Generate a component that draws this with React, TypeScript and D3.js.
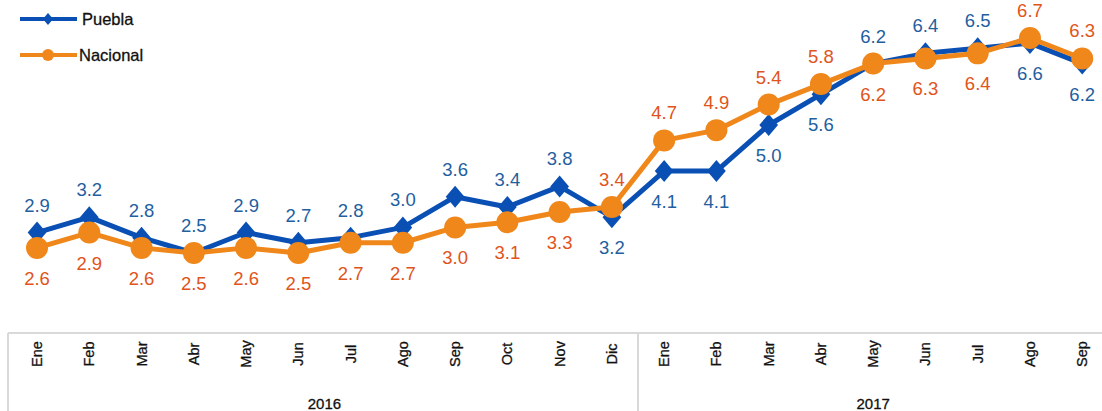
import React from 'react';
import * as d3 from 'd3';

const months = ['Ene', 'Feb', 'Mar', 'Abr', 'May', 'Jun', 'Jul', 'Ago', 'Sep', 'Oct', 'Nov', 'Dic',
    'Ene', 'Feb', 'Mar', 'Abr', 'May', 'Jun', 'Jul', 'Ago', 'Sep'];
const years = ['2016', '2017'];
const yearSpans = [12, 9];
const puebla = [2.9, 3.2, 2.8, 2.5, 2.9, 2.7, 2.8, 3.0, 3.6, 3.4, 3.8, 3.2,
    4.1, 4.1, 5.0, 5.6, 6.2, 6.4, 6.5, 6.6, 6.2];
const nacional = [2.6, 2.9, 2.6, 2.5, 2.6, 2.5, 2.7, 2.7, 3.0, 3.1, 3.3, 3.4,
    4.7, 4.9, 5.4, 5.8, 6.2, 6.3, 6.4, 6.7, 6.3];
// which side the Puebla label sits on (Nacional takes the other one)
const pueblaAbove = [true, true, true, true, true, true, true, true, true, true, true, false,
    false, false, false, false, true, true, true, false, false];

const W = 1102;
const H = 411;
const FONT = '"Liberation Sans", Arial, sans-serif';
const BLUE = '#0a50b4';
const BLUE_TXT = '#1f609f';
const ORANGE = '#f0871a';
const ORANGE_TXT = '#e0541b';
const GRID = '#d9d9d9';

const App: React.FC = () => {
    const x = d3.scaleBand<number>()
        .domain(months.map((_, i) => i))
        .range([10.9, 10.9 + 52.26 * months.length]);
    const bw = x.bandwidth();
    const cx = (i: number) => (x(i) || 0) + bw / 2;

    const y = d3.scaleLinear().domain([2.5, 6.7]).range([253, 38]);

    const line = d3.line<number>().x((_, i) => cx(i)).y((d) => y(d));

    const diamond = (px: number, py: number, r: number) =>
        `M${px},${py - r}L${px + r * 0.85},${py}L${px},${py + r}L${px - r * 0.85},${py}Z`;

    const axisTop = 333;
    let start = 0;
    const yearBlocks = years.map((yr, k) => {
        const s = start;
        start += yearSpans[k];
        return { yr, s, e: start };
    });

    return (
        <svg width={W} height={H} style={{ position: 'absolute', left: 0, top: 0 }} fontFamily={FONT}>
            <rect width={W} height={H} fill="#fff" />

            {/* legend */}
            <g>
                <line x1={20} x2={77} y1={19} y2={19} stroke={BLUE} strokeWidth={4} />
                <path d={diamond(48, 19, 6)} fill={BLUE} />
                <text x={82} y={25} fontSize={16.5} fill="#111" stroke="#111" strokeWidth={0.3}>Puebla</text>
                <line x1={20} x2={77} y1={55} y2={55} stroke={ORANGE} strokeWidth={4} />
                <circle cx={48} cy={55} r={6} fill={ORANGE} />
                <text x={79} y={61} fontSize={16.5} fill="#111" stroke="#111" strokeWidth={0.3}>Nacional</text>
            </g>

            {/* category axis box */}
            <line x1={8} x2={W} y1={axisTop} y2={axisTop} stroke={GRID} strokeWidth={2} />
            <line x1={8} x2={8} y1={axisTop} y2={H} stroke={GRID} strokeWidth={2} />
            {yearBlocks.slice(1).map((b) => (
                <line key={b.yr} x1={x(b.s) || 0} x2={x(b.s) || 0} y1={axisTop} y2={H} stroke={GRID} strokeWidth={2} />
            ))}
            {months.map((m, i) => (
                <text key={i} transform={`translate(${cx(i) + 5},354) rotate(-90)`}
                    textAnchor="middle" fontSize={14.5} fill="#111" stroke="#111" strokeWidth={0.3}>{m}</text>
            ))}
            {yearBlocks.map((b) => (
                <text key={b.yr} x={((x(b.s) || 0) + (x(b.e - 1) || 0) + bw) / 2} y={409}
                    textAnchor="middle" fontSize={15} fill="#111" stroke="#111" strokeWidth={0.3}>{b.yr}</text>
            ))}

            {/* Puebla */}
            <path d={line(puebla) || ''} fill="none" stroke={BLUE} strokeWidth={5} strokeLinejoin="round" />
            {puebla.map((v, i) => (
                <path key={i} d={diamond(cx(i), y(v), 11)} fill={BLUE} />
            ))}

            {/* Nacional */}
            <path d={line(nacional) || ''} fill="none" stroke={ORANGE} strokeWidth={5} strokeLinejoin="round" />
            {nacional.map((v, i) => (
                <circle key={i} cx={cx(i)} cy={y(v)} r={11} fill={ORANGE} />
            ))}

            {/* data labels */}
            {puebla.map((v, i) => (
                <text key={i} x={cx(i)} y={y(v) + (pueblaAbove[i] ? -21 : 37)} textAnchor="middle"
                    fontSize={18.5} fill={BLUE_TXT}>{v.toFixed(1)}</text>
            ))}
            {nacional.map((v, i) => (
                <text key={i} x={cx(i)} y={y(v) + (pueblaAbove[i] ? 37 : -21)} textAnchor="middle"
                    fontSize={18.5} fill={ORANGE_TXT}>{v.toFixed(1)}</text>
            ))}
        </svg>
    );
};

export default App;
